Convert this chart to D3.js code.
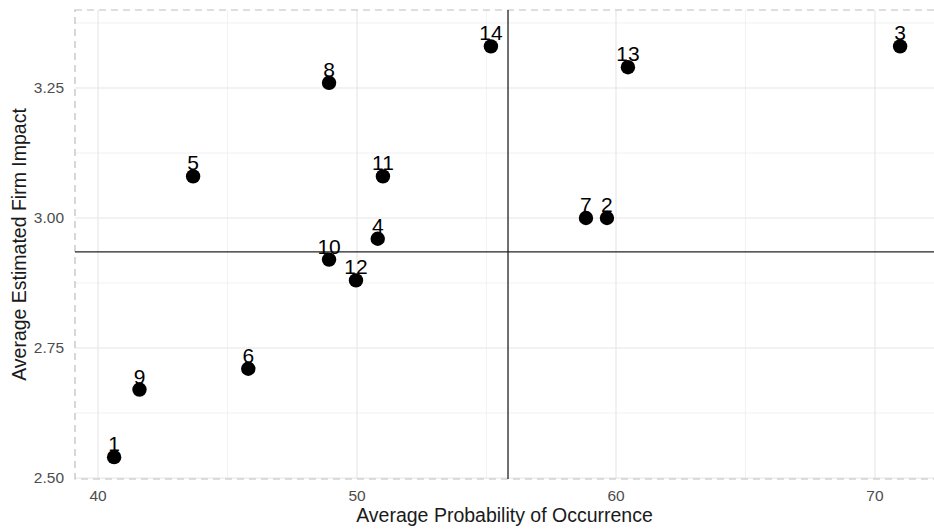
<!doctype html>
<html lang="en">
  <head>
    <meta charset="utf-8">
    <title>Probability vs impact</title>
    <script src="https://d3js.org/d3.v7.min.js"></script>
    <style>
      body { margin: 0; background: #fff; }
      text { font-family: "Liberation Sans", Arial, sans-serif; }
    </style>
  </head>

  <body>
    <svg width="934" height="530"></svg>
    <script>
      // risk ids, x = probability of occurrence, y = firm impact
      var ids = [1, 2, 3, 4, 5, 6, 7, 8, 9, 10, 11, 12, 13, 14];
      var prob = [40.62, 59.65, 70.97, 50.8, 43.67, 45.8, 58.84, 48.92, 41.6, 48.92, 51.0, 49.96, 60.46, 55.17];
      var impact = [2.54, 3.0, 3.33, 2.96, 3.08, 2.71, 3.0, 3.26, 2.67, 2.92, 3.08, 2.88, 3.29, 3.33];

      var xTicks = [40, 50, 60, 70];
      var xMinor = [45, 55, 65];
      var yTicks = [2.5, 2.75, 3.0, 3.25];
      var yMinor = [2.625, 2.875, 3.125, 3.375];

      // quadrant lines
      var refProb = 55.83;
      var refImpact = 2.935;

      var svg = d3.select('svg');
      // (window.top is read-only, so no "top" here)
      var pLeft = 75, pRight = 933, pTop = 10, pBottom = 479;

      var x = d3.scaleLinear().domain([39.11, 72.24]).range([pLeft, pRight]);
      var y = d3.scaleLinear().domain([2.498, 3.40]).range([pBottom, pTop]);

      var grid = svg.append('g');
      grid.selectAll('.xminor').data(xMinor).enter().append('line')
        .attr('x1', function(d){ return x(d); }).attr('x2', function(d){ return x(d); })
        .attr('y1', pTop).attr('y2', pBottom)
        .style('stroke', '#efefef').style('stroke-width', 0.8);
      grid.selectAll('.yminor').data(yMinor).enter().append('line')
        .attr('y1', function(d){ return y(d); }).attr('y2', function(d){ return y(d); })
        .attr('x1', pLeft).attr('x2', 934)
        .style('stroke', '#efefef').style('stroke-width', 0.8);
      grid.selectAll('.xmajor').data(xTicks).enter().append('line')
        .attr('x1', function(d){ return x(d); }).attr('x2', function(d){ return x(d); })
        .attr('y1', pTop).attr('y2', pBottom)
        .style('stroke', '#e6e6e6').style('stroke-width', 1.1);
      grid.selectAll('.ymajor').data(yTicks).enter().append('line')
        .attr('y1', function(d){ return y(d); }).attr('y2', function(d){ return y(d); })
        .attr('x1', pLeft).attr('x2', 934)
        .style('stroke', '#e6e6e6').style('stroke-width', 1.1);

      // dashed panel border
      svg.append('rect')
        .attr('x', pLeft).attr('y', pTop)
        .attr('width', 900).attr('height', pBottom - pTop)
        .style('fill', 'none').style('stroke', '#bdbdbd')
        .style('stroke-width', 1.2).style('stroke-dasharray', '7,5');

      // tick labels
      svg.selectAll('.xlab').data(xTicks).enter().append('text')
        .attr('x', function(d){ return x(d); }).attr('y', 501)
        .attr('text-anchor', 'middle')
        .style('font-size', '15.5px').style('fill', '#4d4d4d')
        .text(function(d){ return d; });
      svg.selectAll('.ylab').data(yTicks).enter().append('text')
        .attr('x', 64).attr('y', function(d){ return y(d) + 5.5; })
        .attr('text-anchor', 'end')
        .style('font-size', '15.5px').style('fill', '#4d4d4d')
        .text(function(d){ return d3.format('.2f')(d); });

      // axis titles
      svg.append('text')
        .attr('x', (pLeft + 934) / 2).attr('y', 522)
        .attr('text-anchor', 'middle')
        .style('font-size', '19.5px').style('fill', '#1a1a1a')
        .text('Average Probability of Occurrence');
      svg.append('text')
        .attr('transform', 'translate(26,' + ((pTop + pBottom) / 2) + ') rotate(-90)')
        .attr('text-anchor', 'middle')
        .style('font-size', '19.5px').style('fill', '#1a1a1a')
        .text('Average Estimated Firm Impact');

      // reference lines
      svg.append('line')
        .attr('x1', x(refProb)).attr('x2', x(refProb))
        .attr('y1', pTop).attr('y2', pBottom)
        .style('stroke', '#222').style('stroke-width', 1.3);
      svg.append('line')
        .attr('x1', pLeft).attr('x2', 934)
        .attr('y1', y(refImpact)).attr('y2', y(refImpact))
        .style('stroke', '#222').style('stroke-width', 1.3);

      var pts = d3.range(ids.length);

      svg.selectAll('circle').data(pts).enter().append('circle')
        .attr('cx', function(i){ return x(prob[i]); })
        .attr('cy', function(i){ return y(impact[i]); })
        .attr('r', 7.2)
        .style('fill', '#000');

      svg.selectAll('.pt-label').data(pts).enter().append('text')
        .attr('x', function(i){ return x(prob[i]); })
        .attr('y', function(i){ return y(impact[i]) - 6; })
        .attr('text-anchor', 'middle')
        .style('font-size', '21px').style('fill', '#000')
        .text(function(i){ return ids[i]; });
    </script>
  </body>
</html>
